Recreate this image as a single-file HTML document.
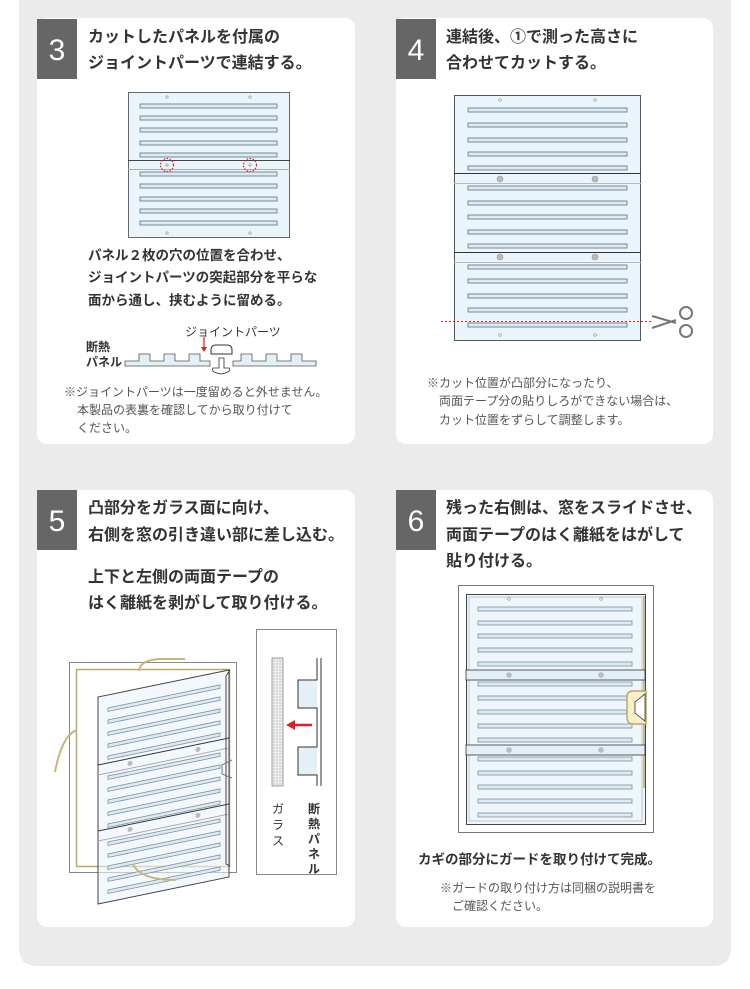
<!DOCTYPE html>
<html><head><meta charset="utf-8"><style>
body{margin:0;background:#fff}
svg{display:block}
text{font-family:"Liberation Sans","Noto Sans CJK JP",sans-serif;fill:#333}
.t{font-size:16px;font-weight:bold}
.b{font-size:13.5px;font-weight:bold}
.n{font-size:12px;fill:#555}
.num{font-size:30px;fill:#fff}
</style></head><body>
<svg width="750" height="989" viewBox="0 0 750 989" xmlns="http://www.w3.org/2000/svg">
<defs>
<rect id="sl" x="0" y="0" width="137" height="4" fill="#dbeaf3" stroke="#6d7f8a" stroke-width="0.9"/>
<rect id="sl4" x="0" y="0" width="159" height="4" fill="#dbeaf3" stroke="#6d7f8a" stroke-width="0.9"/>
<rect id="sl6" x="0" y="0" width="154" height="4" fill="#dbeaf3" stroke="#8a9aa4" stroke-width="0.9"/>
<rect id="sl5" x="0" y="0" width="112" height="3.5" fill="#dbeaf3" stroke="#7d8f9a" stroke-width="0.8"/>
<pattern id="dots" width="3" height="3" patternUnits="userSpaceOnUse"><rect width="3" height="3" fill="#eee"/><circle cx="1" cy="1" r="0.6" fill="#999"/></pattern>
</defs>
<path d="M19 0 H731 V948 Q731 966 713 966 H37 Q19 966 19 948 Z" fill="#ebebeb"/>
<rect x="37" y="18" width="318" height="426" rx="10" fill="#fff"/>
<rect x="396" y="18" width="317" height="426" rx="10" fill="#fff"/>
<rect x="37" y="490" width="318" height="437" rx="10" fill="#fff"/>
<rect x="396" y="490" width="317" height="437" rx="10" fill="#fff"/>
<rect x="37" y="19" width="40" height="60" fill="#666"/><text class="num" x="57" y="60" text-anchor="middle">3</text>
<rect x="396" y="19" width="40" height="60" fill="#666"/><text class="num" x="416" y="60" text-anchor="middle">4</text>
<rect x="37" y="490" width="40" height="60" fill="#666"/><text class="num" x="57" y="531" text-anchor="middle">5</text>
<rect x="396" y="490" width="40" height="60" fill="#666"/><text class="num" x="416" y="531" text-anchor="middle">6</text>

<!-- card 3 -->
<text class="t" x="88" y="42">カットしたパネルを付属の</text>
<text class="t" x="88" y="68">ジョイントパーツで連結する。</text>
<rect x="128.5" y="92.5" width="161" height="145" fill="#e9f4fb" stroke="#666"/>
<g transform="translate(140,0)"><use href="#sl" y="104"/><use href="#sl" y="116"/><use href="#sl" y="128"/><use href="#sl" y="141"/><use href="#sl" y="153"/><use href="#sl" y="172"/><use href="#sl" y="184"/><use href="#sl" y="197"/><use href="#sl" y="209"/><use href="#sl" y="221"/></g>
<line x1="128" y1="160.5" x2="290" y2="160.5" stroke="#444"/>
<line x1="128" y1="169.5" x2="290" y2="169.5" stroke="#aaa"/>
<g fill="none" stroke="#999" stroke-width="0.7"><circle cx="167" cy="97" r="1.2"/><circle cx="250" cy="97" r="1.2"/><circle cx="167" cy="233" r="1.2"/><circle cx="250" cy="233" r="1.2"/><circle cx="167" cy="165" r="1.2"/><circle cx="250" cy="165" r="1.2"/></g>
<g fill="none" stroke="#d22" stroke-width="1.2" stroke-dasharray="1.5 1.5"><circle cx="167" cy="165" r="6.5"/><circle cx="250" cy="165" r="6.5"/></g>
<text class="b" x="88" y="260">パネル２枚の穴の位置を合わせ、</text>
<text class="b" x="88" y="282">ジョイントパーツの突起部分を平らな</text>
<text class="b" x="88" y="305">面から通し、挟むように留める。</text>
<text x="185" y="336" style="font-size:12px">ジョイントパーツ</text>
<text class="b" x="86" y="351" style="font-size:12px">断熱</text>
<text class="b" x="86" y="366" style="font-size:12px">パネル</text>
<g fill="#e3f0f8" stroke="#555" stroke-width="0.8">
<path d="M125 361 H139 V354 H150 V361 H164 V354 H175 V361 H189 V354 H200 V361 H210 V366 H125 Z"/>
<path d="M233 361 H241 V354 H252 V361 H266 V354 H277 V361 H291 V354 H302 V361 H316 V366 H233 Z"/>
</g>
<path d="M211 350 Q211 345 216 345 H227 Q232 345 232 350 V354 H211 Z" fill="#fff" stroke="#333"/>
<path d="M219 358 H224 V368 H229 Q232 372 221 374 Q210 372 213 368 H219 Z" fill="#fff" stroke="#333" stroke-width="0.8"/>
<line x1="204" y1="337" x2="204" y2="350" stroke="#d22" stroke-width="1.2"/><path d="M201 347 L204 352 L207 347 Z" fill="#d22"/>
<text class="n" x="64" y="396">※ジョイントパーツは一度留めると外せません。</text>
<text class="n" x="77" y="414">本製品の表裏を確認してから取り付けて</text>
<text class="n" x="77" y="432">ください。</text>

<!-- card 4 -->
<text class="t" x="446" y="42">連結後、①で測った高さに</text>
<text class="t" x="446" y="68">合わせてカットする。</text>
<rect x="454.5" y="95.5" width="186" height="245" fill="#e9f4fb" stroke="#555"/>
<g transform="translate(468,0)"><use href="#sl4" y="108"/><use href="#sl4" y="123"/><use href="#sl4" y="138"/><use href="#sl4" y="152"/><use href="#sl4" y="166"/><use href="#sl4" y="186"/><use href="#sl4" y="201"/><use href="#sl4" y="215"/><use href="#sl4" y="230"/><use href="#sl4" y="244"/><use href="#sl4" y="265"/><use href="#sl4" y="279"/><use href="#sl4" y="294"/><use href="#sl4" y="308"/><use href="#sl4" y="323"/></g>
<line x1="454" y1="173.5" x2="641" y2="173.5" stroke="#333"/><line x1="454" y1="183.5" x2="641" y2="183.5" stroke="#bbb"/>
<line x1="454" y1="252.5" x2="641" y2="252.5" stroke="#333"/><line x1="454" y1="262.5" x2="641" y2="262.5" stroke="#bbb"/>
<g fill="#bbb" stroke="#999" stroke-width="0.6"><circle cx="500" cy="179" r="3"/><circle cx="595" cy="179" r="3"/><circle cx="500" cy="257" r="3"/><circle cx="595" cy="257" r="3"/></g>
<g fill="none" stroke="#999" stroke-width="0.7"><circle cx="500" cy="100" r="1.3"/><circle cx="595" cy="100" r="1.3"/><circle cx="500" cy="335" r="1.3"/><circle cx="595" cy="335" r="1.3"/></g>
<line x1="441" y1="321.5" x2="652" y2="321.5" stroke="#d22" stroke-dasharray="2 2"/>
<g stroke="#777" fill="none" stroke-width="2"><path d="M652 316 L676 323 M652 328 L676 320"/><circle cx="686" cy="313" r="6"/><circle cx="686" cy="331" r="6"/></g>
<text class="n" x="427" y="387">※カット位置が凸部分になったり、</text>
<text class="n" x="439" y="405">両面テープ分の貼りしろができない場合は、</text>
<text class="n" x="439" y="424">カット位置をずらして調整します。</text>

<!-- card 5 -->
<text class="t" x="88" y="513">凸部分をガラス面に向け、</text>
<text class="t" x="88" y="540">右側を窓の引き違い部に差し込む。</text>
<text class="t" x="88" y="582">上下と左側の両面テープの</text>
<text class="t" x="88" y="608">はく離紙を剥がして取り付ける。</text>
<rect x="69.5" y="662.5" width="167" height="210" fill="#fff" stroke="#888"/>
<rect x="76.5" y="669.5" width="153" height="197" fill="none" stroke="#b9a868" stroke-width="1.5"/>
<path d="M139 671 Q140 660 160 659 L185 659" fill="none" stroke="#c9b77a" stroke-width="2"/>
<path d="M77 730 Q62 735 55 772" fill="none" stroke="#c9b77a" stroke-width="2"/>
<g transform="translate(98,0) skewY(-11.65)">
<rect x="0" y="697" width="131" height="207" fill="#e9f4fb" fill-opacity="0.6" stroke="#444"/>
<g transform="translate(10,0)"><use href="#sl5" y="710"/><use href="#sl5" y="722"/><use href="#sl5" y="734"/><use href="#sl5" y="746"/><use href="#sl5" y="758"/><use href="#sl5" y="778"/><use href="#sl5" y="790"/><use href="#sl5" y="802"/><use href="#sl5" y="814"/><use href="#sl5" y="826"/><use href="#sl5" y="844"/><use href="#sl5" y="856"/><use href="#sl5" y="868"/><use href="#sl5" y="880"/><use href="#sl5" y="892"/></g>
<line x1="0" y1="765" x2="131" y2="765" stroke="#333"/><line x1="0" y1="775" x2="131" y2="775" stroke="#aaa"/>
<line x1="0" y1="831" x2="131" y2="831" stroke="#333"/><line x1="0" y1="841" x2="131" y2="841" stroke="#aaa"/>
<g fill="#bbb"><circle cx="32" cy="770" r="2.5"/><circle cx="100" cy="770" r="2.5"/><circle cx="32" cy="836" r="2.5"/><circle cx="100" cy="836" r="2.5"/></g>
</g>
<path d="M230 670 L226 676 V864 L230 866" fill="none" stroke="#444"/>
<path d="M232 760 L222 765 V774 L232 778" fill="none" stroke="#777"/>
<path d="M133 864 Q140 880 176 880" fill="none" stroke="#c9b77a" stroke-width="2"/>
<rect x="256.5" y="629.5" width="80" height="245" fill="#fff" stroke="#888"/>
<rect x="272" y="658" width="11" height="128" fill="url(#dots)" stroke="#666" stroke-width="0.6"/>
<path d="M321 658 V786" stroke="#333" fill="none"/>
<path d="M317 658 V680 H298 V708 H317 V747 H298 V775 H317 V786" fill="#e3f0f8" stroke="#333"/>
<line x1="312" y1="725" x2="293" y2="725" stroke="#d22" stroke-width="2.5"/><path d="M295 720 L286 725 L295 730 Z" fill="#d22"/>
<g style="font-size:12px;font-weight:bold"><text x="278" y="813" text-anchor="middle" style="font-weight:normal">ガ</text><text x="278" y="829" text-anchor="middle" style="font-weight:normal">ラ</text><text x="278" y="845" text-anchor="middle" style="font-weight:normal">ス</text>
<text x="314" y="813" text-anchor="middle">断</text><text x="314" y="828" text-anchor="middle">熱</text><text x="314" y="843" text-anchor="middle">パ</text><text x="314" y="858" text-anchor="middle">ネ</text><text x="314" y="873" text-anchor="middle">ル</text></g>

<!-- card 6 -->
<text class="t" x="446" y="513">残った右側は、窓をスライドさせ、</text>
<text class="t" x="446" y="540">両面テープのはく離紙をはがして</text>
<text class="t" x="446" y="566">貼り付ける。</text>
<rect x="458.5" y="585.5" width="195" height="247" fill="#fff" stroke="#777"/>
<rect x="466.5" y="594.5" width="179" height="230" fill="#eef6fb" stroke="#444"/>
<rect x="469" y="597" width="173" height="224" fill="none" stroke="#bcc8cf"/>
<line x1="644" y1="596" x2="644" y2="788" stroke="#b9a868" stroke-width="1.5"/>
<g transform="translate(478,0)"><use href="#sl6" y="607"/><use href="#sl6" y="621"/><use href="#sl6" y="634"/><use href="#sl6" y="648"/><use href="#sl6" y="662"/><use href="#sl6" y="682"/><use href="#sl6" y="696"/><use href="#sl6" y="710"/><use href="#sl6" y="724"/><use href="#sl6" y="738"/><use href="#sl6" y="757"/><use href="#sl6" y="771"/><use href="#sl6" y="785"/><use href="#sl6" y="799"/><use href="#sl6" y="813"/></g>
<rect x="466" y="670" width="179" height="10" fill="#e2eff7" stroke="#333" stroke-width="0.8"/>
<rect x="466" y="745" width="179" height="10" fill="#e2eff7" stroke="#333" stroke-width="0.8"/>
<g fill="#bbb"><circle cx="509" cy="675" r="2.8"/><circle cx="601" cy="675" r="2.8"/><circle cx="509" cy="750" r="2.8"/><circle cx="601" cy="750" r="2.8"/></g>
<g fill="none" stroke="#999" stroke-width="0.7"><circle cx="509" cy="599" r="1.3"/><circle cx="601" cy="599" r="1.3"/></g>
<path d="M646 691 H633 Q627 691 627 697 V717 Q627 724 633 724 H646 Z" fill="#f5f0c8" stroke="#b9a868" stroke-width="1.5"/>
<path d="M645 694 V721 L635 713 V702 Z" fill="#fff" stroke="#333" stroke-width="0.8"/>
<text class="b" x="418" y="864">カギの部分にガードを取り付けて完成。</text>
<text class="n" x="440" y="892">※ガードの取り付け方は同梱の説明書を</text>
<text class="n" x="452" y="910">ご確認ください。</text>
</svg>
</body></html>
